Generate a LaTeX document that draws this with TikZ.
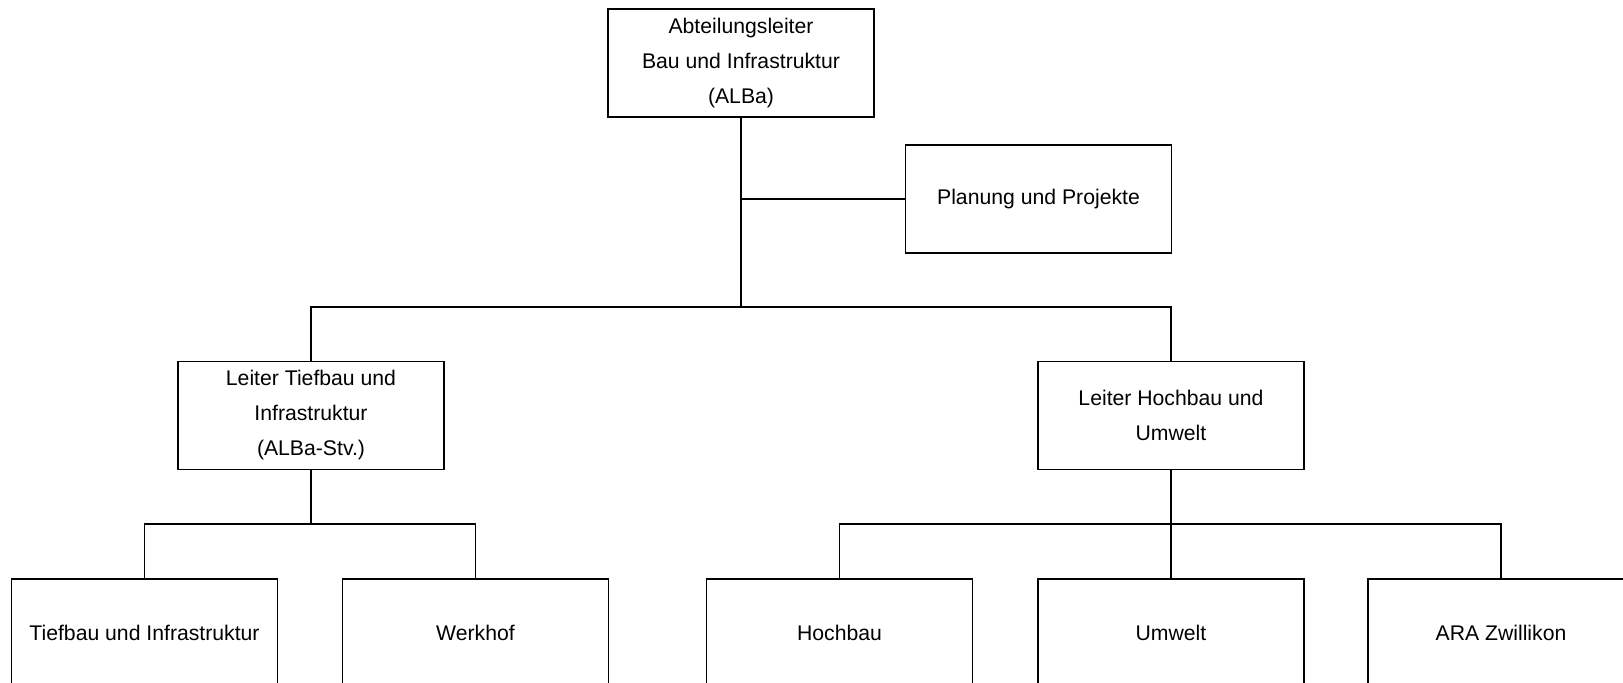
\documentclass[tikz,border=0pt]{standalone}
\usepackage{fontspec}
\setmainfont{Liberation Sans}
\begin{document}
\begin{tikzpicture}[x=0.5pt,y=-0.5pt,
  orgbox/.style={draw=black,line width=0.75pt,minimum width=133pt,minimum height=54pt,inner sep=0pt,align=center,font=\fontsize{10.6pt}{17.5pt}\selectfont},
  conn/.style={draw=black,line width=0.75pt}]
\useasboundingbox (0,0) rectangle (1623,683);
\clip (0,0) rectangle (1623,683);
\node[orgbox] (top) at (741,63) {Abteilungsleiter\\Bau und Infrastruktur\\(ALBa)};
\node[orgbox] (plan) at (1038.5,199) {Planung und Projekte};
\node[orgbox] (lt) at (311,415.5) {Leiter Tiefbau und\\Infrastruktur\\(ALBa-Stv.)};
\node[orgbox] (lh) at (1171,415.5) {Leiter Hochbau und\\Umwelt};
\node[orgbox] (tb) at (144.5,633) {Tiefbau und Infrastruktur};
\node[orgbox] (wh) at (475.5,633) {Werkhof};
\node[orgbox] (hb) at (839.5,633) {Hochbau};
\node[orgbox] (uw) at (1171,633) {Umwelt};
\node[orgbox] (ara) at (1501,633) {ARA Zwillikon};
\coordinate (j1) at (741,199);
\coordinate (j2) at (741,307);
\coordinate (k1) at (311,524);
\coordinate (k2) at (1171,524);
\draw[conn] (top.south) -- (j2);
\draw[conn] (j1) -- (plan.west);
\draw[conn] (lt.north) |- (j2) -| (lh.north);
\draw[conn] (lt.south) -- (k1);
\draw[conn] (tb.north) |- (k1) -| (wh.north);
\draw[conn] (lh.south) -- (k2);
\draw[conn] (hb.north) |- (k2) -| (ara.north);
\draw[conn] (k2) -- (uw.north);
\end{tikzpicture}
\end{document}
